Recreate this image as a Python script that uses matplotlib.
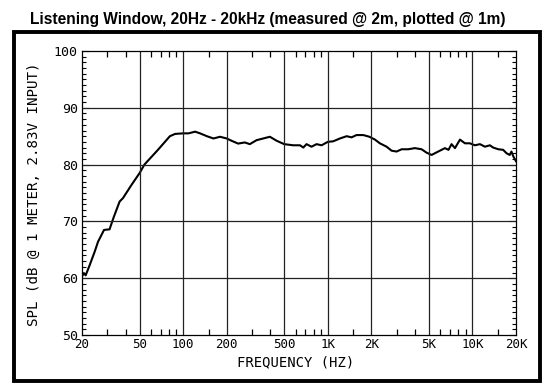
import numpy as np
import matplotlib
matplotlib.use('Agg')
import matplotlib.pyplot as plt
from matplotlib.patches import Rectangle
from matplotlib.ticker import FixedLocator, NullFormatter

# frequency response (Hz, dB SPL)
freq = [20, 20.6, 21.2, 22.6, 24.5, 25.8, 28.4, 31, 33.2, 36.4, 38.4, 43.9, 50,
        54, 67, 81, 88, 100, 109, 121, 131, 146, 162, 180, 200, 216, 240,
        267, 289, 322, 358, 398, 443, 500, 577, 643, 677, 713, 772, 836, 906,
        1000, 1090, 1213, 1350, 1460, 1580, 1760, 1940, 2120, 2290, 2550,
        2760, 2990, 3240, 3600, 4000, 4450, 4820, 5220, 5500, 5960, 6450,
        6830, 7170, 7570, 8200, 8870, 9600, 10400, 11270, 12200, 13200,
        13900, 15100, 16300, 17200, 18100, 18600, 19200, 20000]
spl = [60.3, 60.9, 60.5, 62.3, 64.7, 66.4, 68.5, 68.6, 70.8, 73.5, 74.1, 76.4, 78.5,
       80.0, 82.6, 85.0, 85.4, 85.5, 85.5, 85.8, 85.5, 85.0, 84.6, 84.9, 84.6, 84.2, 83.7,
       83.9, 83.6, 84.3, 84.6, 84.9, 84.2, 83.6, 83.4, 83.4, 83.0, 83.6, 83.15, 83.6, 83.4,
       84.0, 84.1, 84.6, 85.0, 84.8, 85.2, 85.2, 84.9, 84.4, 83.75, 83.15,
       82.45, 82.3, 82.7, 82.7, 82.9, 82.7, 82.1, 81.7, 82.0, 82.45, 82.9,
       82.6, 83.6, 82.9, 84.4, 83.75, 83.75, 83.4, 83.6, 83.15, 83.4,
       83.0, 82.7, 82.6, 82.0, 81.7, 82.3, 81.4, 80.6]

grid_freqs = [50, 100, 200, 500, 1000, 2000, 5000, 10000]
x_ticks = [20, 50, 100, 200, 500, 1000, 2000, 5000, 10000, 20000]
x_labels = ['20', '50', '100', '200', '500', '1K', '2K', '5K', '10K', '20K']
minor_freqs = [30, 40, 60, 70, 80, 90, 150, 300, 400, 600, 700, 800, 900,
               1500, 3000, 4000, 6000, 7000, 8000, 9000, 15000]
y_ticks = [50, 60, 70, 80, 90, 100]

W, H = 550, 388
fig = plt.figure(figsize=(W / 100, H / 100), dpi=100)

def fx(px):
    return px / W

def fy(py):
    return 1 - py / H

# outer black frame
fig.patches.append(Rectangle((fx(14), fy(381)), fx(540) - fx(14), fy(32) - fy(381),
                             transform=fig.transFigure, fill=False,
                             edgecolor='black', linewidth=2.8))

fig.text(fx(268), fy(24), 'Listening Window, 20Hz - 20kHz (measured @ 2m, plotted @ 1m)',
         ha='center', va='baseline', fontsize=11.2, fontweight='bold',
         family='Liberation Sans')

left, right, top, bottom = 82, 516, 51, 335
ax = fig.add_axes([fx(left), fy(bottom), fx(right) - fx(left), fy(top) - fy(bottom)])

ax.semilogx(freq, spl, color='black', linewidth=1.5)
ax.set_xlim(20, 20000)
ax.set_ylim(50, 100)

for f in grid_freqs:
    ax.axvline(f, color='#222222', linewidth=0.9)
for v in y_ticks[1:-1]:
    ax.axhline(v, color='#222222', linewidth=0.9)

mono = 'DejaVu Sans Mono'
ax.xaxis.set_major_locator(FixedLocator(x_ticks))
ax.xaxis.set_minor_locator(FixedLocator(minor_freqs))
ax.set_xticklabels(x_labels, family=mono, fontsize=9)
ax.xaxis.set_minor_formatter(NullFormatter())
ax.yaxis.set_major_locator(FixedLocator(y_ticks))
ax.yaxis.set_minor_locator(FixedLocator([v for v in range(50, 101) if v % 10 != 0]))
ax.set_yticklabels([str(v) for v in y_ticks], family=mono, fontsize=9.5)

ax.tick_params(which='both', direction='in', top=True, right=True, color='black')
ax.tick_params(which='major', length=0, pad=2.5)
ax.tick_params(axis='y', which='major', length=5, pad=3)
ax.tick_params(axis='x', which='minor', length=4, width=0.9)
ax.tick_params(axis='y', which='minor', length=3, width=0.8)

for s in ax.spines.values():
    s.set_linewidth(0.9)

fig.text(fx(296), fy(362), 'FREQUENCY (HZ)', ha='center', va='center',
         family=mono, fontsize=10)
fig.text(fx(34), fy(194), 'SPL (dB @ 1 METER, 2.83V INPUT)', ha='center', va='center',
         rotation=90, family=mono, fontsize=10.2)

fig.savefig('out.png', dpi=100)
